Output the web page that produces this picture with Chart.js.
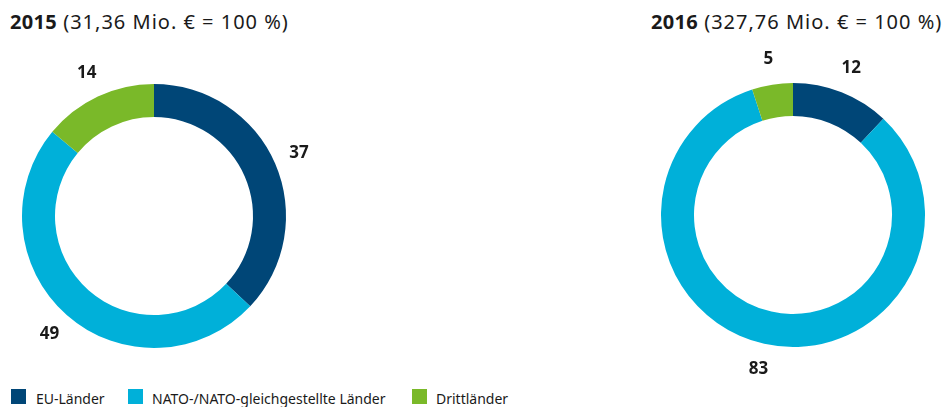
<!DOCTYPE html>
<html><head><meta charset="utf-8">
<script src="https://cdn.jsdelivr.net/npm/chart.js@4"></script>
<style>
html,body{margin:0;padding:0;width:944px;height:407px;overflow:hidden;background:#fff;font-family:"Noto Sans",sans-serif;color:#1a1a1a}
.title{position:absolute;top:8px;font-size:20px;letter-spacing:1px;white-space:nowrap}
.title b{font-weight:700;letter-spacing:0.3px}
.cv{position:absolute}
.legend{position:absolute;top:388px;left:0;font-size:14px;white-space:nowrap}
.li{position:absolute;top:0;white-space:nowrap}
.sw{position:absolute;top:1px;width:15px;height:15px}
.lt{position:absolute;top:1px}
</style></head>
<body>
<div class="title" id="t1" style="left:10px"></div>
<div class="title" id="t2" style="left:651px"></div>
<div class="cv" style="left:-16px;top:46px;width:340px;height:340px"><canvas id="c1" width="340" height="340"></canvas></div>
<div class="cv" style="left:623px;top:45px;width:340px;height:340px"><canvas id="c2" width="340" height="340"></canvas></div>
<div class="legend" id="lg"></div>
<script>
const categories = ["EU-Länder", "NATO-/NATO-gleichgestellte Länder", "Drittländer"];
const colors = ["#004677", "#00b0d9", "#7ab929"];
const years = ["2015", "2016"];
const totals = ["31,36 Mio. € = 100 %", "327,76 Mio. € = 100 %"];
const values2015 = [37, 49, 14];
const values2016 = [12, 83, 5];

document.getElementById('t1').innerHTML = '<b>' + years[0] + '</b> (' + totals[0] + ')';
document.getElementById('t2').innerHTML = '<b>' + years[1] + '</b> (' + totals[1] + ')';

const legendX = [11, 128, 412];
const lg = document.getElementById('lg');
categories.forEach((c, i) => {
  const d = document.createElement('div');
  d.className = 'li';
  d.style.left = legendX[i] + 'px';
  d.innerHTML = '<span class="sw" style="left:0;background:' + colors[i] + '"></span><span class="lt" style="left:' + (i===0?25:24) + 'px">' + c + '</span>';
  lg.appendChild(d);
});

const labelPlugin = {
  id: 'outLabels',
  afterDatasetsDraw(chart) {
    const ctx = chart.ctx;
    const meta = chart.getDatasetMeta(0);
    ctx.save();
    ctx.font = 'bold 17px "Noto Sans", sans-serif';
    ctx.fillStyle = '#1a1a1a';
    ctx.textAlign = 'center';
    ctx.textBaseline = 'middle';
    meta.data.forEach((arc, i) => {
      const p = arc.getProps(['x','y','startAngle','endAngle','outerRadius'], true);
      const a = (p.startAngle + p.endAngle) / 2;
      const r = p.outerRadius + 26;
      ctx.fillText(String(chart.data.datasets[0].data[i]), p.x + Math.cos(a) * r, p.y + Math.sin(a) * r);
    });
    ctx.restore();
  }
};

function makeChart(id, vals) {
  return new Chart(document.getElementById(id), {
    type: 'doughnut',
    data: { labels: categories, datasets: [{ data: vals, backgroundColor: colors, borderWidth: 0, hoverOffset: 0 }] },
    options: {
      responsive: false,
      animation: false,
      cutout: '75%',
      layout: { padding: 38 },
      plugins: { legend: { display: false }, tooltip: { enabled: false } }
    },
    plugins: [labelPlugin]
  });
}
makeChart('c1', values2015);
makeChart('c2', values2016);
</script>
</body></html>
